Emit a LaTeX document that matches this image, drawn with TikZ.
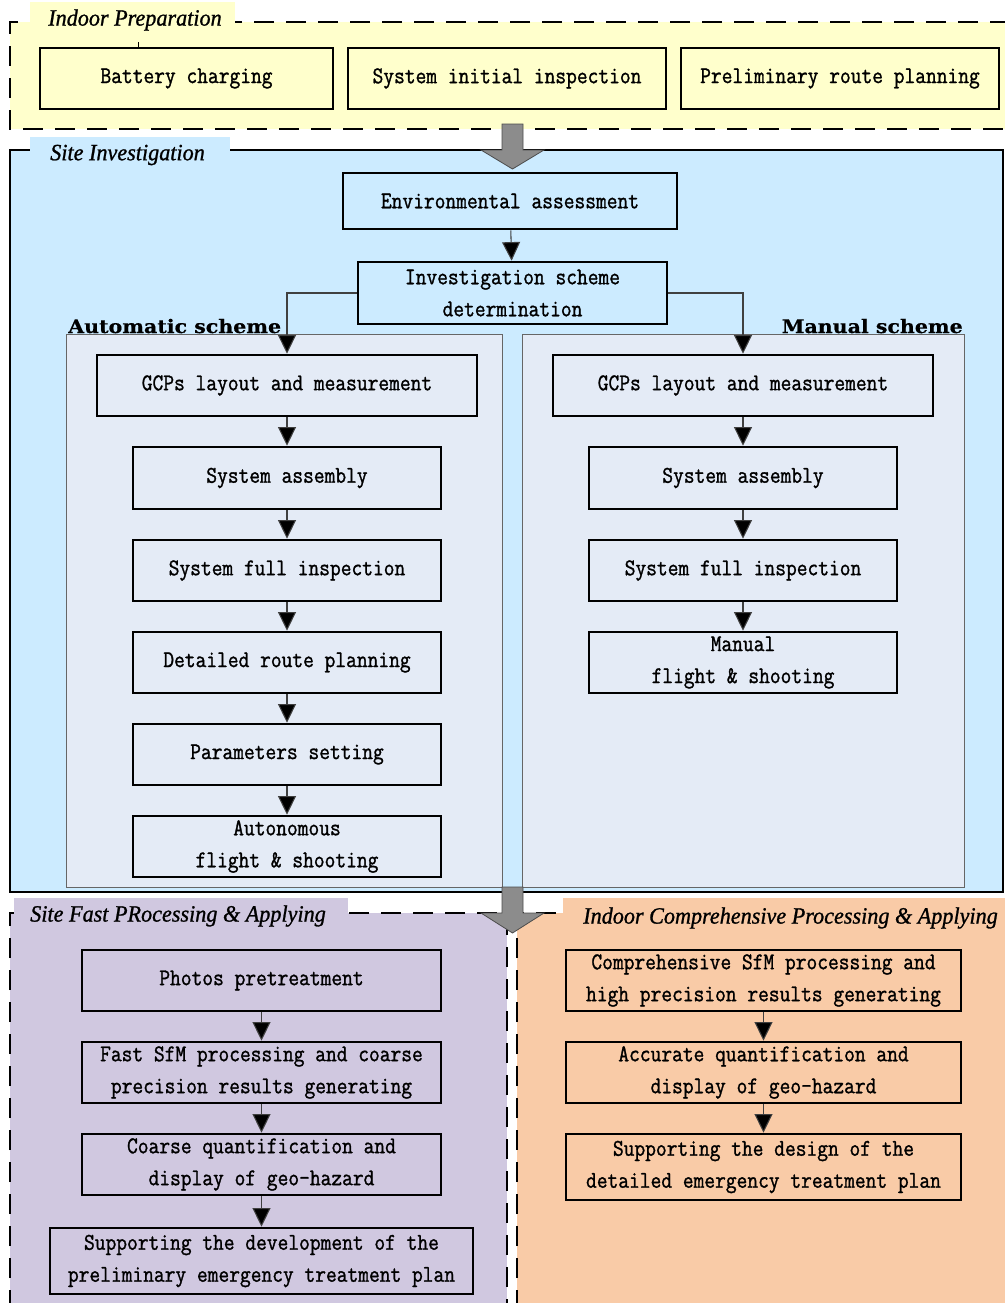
\documentclass[tikz,border=0pt]{standalone}
\usepackage{fontspec}
\usetikzlibrary{arrows.meta}
\newfontfamily\monof[FakeStretch=0.87,FakeBold=1.2]{Latin Modern Mono}
\newfontfamily\titf[FakeStretch=0.95,FakeBold=1.0]{Liberation Serif}
\newfontfamily\schemef[FakeStretch=1.1,FakeBold=0.6]{DejaVu Serif}
\definecolor{yel}{HTML}{FFFFCC}
\definecolor{blu}{HTML}{CCEBFF}
\definecolor{pan}{HTML}{E4EBF6}
\definecolor{lav}{HTML}{D0C8E0}
\definecolor{pch}{HTML}{F9CBA7}
\definecolor{garrow}{HTML}{8C8C8C}
\tikzset{
  box/.style={draw=black, line width=1.9pt, inner sep=0pt, align=center,
    font=\monof\fontsize{18}{24}\selectfont},
  conn/.style={draw=black!75, line width=0.8pt, -{Triangle[length=14pt,width=13.5pt,fill=black]}},
  dashsec/.style={draw=black, line width=2.2pt, dash pattern=on 15pt off 9pt},
  tabtext/.style={inner sep=0pt, anchor=west, font=\titf\itshape\fontsize{17.5}{20}\selectfont},
  schemetext/.style={inner sep=0pt, font=\schemef\bfseries\fontsize{14}{16}\selectfont},
  panel/.style={fill=pan, draw=black!60, line width=0.75pt},
  bigarrow/.style={fill=garrow, draw=black!70, line width=0.6pt},
}
\begin{document}
\begin{tikzpicture}[x=0.75pt,y=-0.75pt]
\useasboundingbox (0,0) rectangle (1004,1303);
% ---- Indoor Preparation
\path[fill=yel] (10,22) rectangle (1010,129);
\draw[dashsec] (1010,22) -- (10,22) -- (10,129) -- (1010,129);
\fill[yel] (30,2) rectangle (235,45);
\node[tabtext] (tIP) at (48,20) {Indoor Preparation};
\draw[line width=0.6pt] (138,42) -- (138,48);
\node[box, fill=yel, minimum width=293*0.75pt, minimum height=61*0.75pt] (bc) at (186.5,78.5) {Battery charging};
\node[box, fill=yel, minimum width=318*0.75pt, minimum height=61*0.75pt] (sii) at (507,78.5) {System initial inspection};
\node[box, fill=yel, minimum width=318*0.75pt, minimum height=61*0.75pt] (prp) at (840,78.5) {Preliminary route planning};
% ---- Site Investigation
\draw[fill=blu, draw=black, line width=1.9pt] (10,150) rectangle (1003,892);
\fill[blu] (30,137) rectangle (230,172);
\node[tabtext] (tSI) at (50,155) {Site Investigation};
\draw[bigarrow] (502,124) -- (523,124) -- (523,150) -- (544,150) -- (512.5,169) -- (481,150) -- (502,150) -- cycle;
\node[box, fill=blu, minimum width=334*0.75pt, minimum height=56*0.75pt] (env) at (510,201) {Environmental assessment};
\node[box, fill=blu, minimum width=309*0.75pt, minimum height=62*0.75pt] (inv) at (512.5,293) {Investigation scheme\\determination};
\draw[panel] (66,334) rectangle (502,887);
\draw[panel] (522,334) rectangle (964,887);
\node[schemetext, anchor=base west] (lauto) at (68,333) {Automatic scheme};
\node[schemetext, anchor=base east] (lman) at (963,333) {Manual scheme};
% automatic column
\node[box, fill=pan, minimum width=380*0.75pt, minimum height=61*0.75pt] (gcpA) at (287,385.5) {GCPs layout and measurement};
\node[box, fill=pan, minimum width=308*0.75pt, minimum height=62*0.75pt] (saA) at (287,478) {System assembly};
\node[box, fill=pan, minimum width=308*0.75pt, minimum height=61*0.75pt] (sfiA) at (287,570.5) {System full inspection};
\node[box, fill=pan, minimum width=308*0.75pt, minimum height=61*0.75pt] (drpA) at (287,662.5) {Detailed route planning};
\node[box, fill=pan, minimum width=308*0.75pt, minimum height=61*0.75pt] (psA) at (287,754.5) {Parameters setting};
\node[box, fill=pan, minimum width=308*0.75pt, minimum height=61*0.75pt] (afsA) at (287,846.5) {Autonomous\\flight \& shooting};
% manual column
\node[box, fill=pan, minimum width=380*0.75pt, minimum height=61*0.75pt] (gcpM) at (743,385.5) {GCPs layout and measurement};
\node[box, fill=pan, minimum width=308*0.75pt, minimum height=62*0.75pt] (saM) at (743,478) {System assembly};
\node[box, fill=pan, minimum width=308*0.75pt, minimum height=61*0.75pt] (sfiM) at (743,570.5) {System full inspection};
\node[box, fill=pan, minimum width=308*0.75pt, minimum height=61*0.75pt] (mfsM) at (743,662.5) {Manual\\flight \& shooting};
\draw[conn] (env) -- (inv);
\draw[conn] (inv.west) -| (gcpA.north);
\draw[conn] (inv.east) -| (gcpM.north);
\draw[conn] (gcpA) -- (saA);
\draw[conn] (saA) -- (sfiA);
\draw[conn] (sfiA) -- (drpA);
\draw[conn] (drpA) -- (psA);
\draw[conn] (psA) -- (afsA);
\draw[conn] (gcpM) -- (saM);
\draw[conn] (saM) -- (sfiM);
\draw[conn] (sfiM) -- (mfsM);
% ---- Site Fast Processing
\path[fill=lav] (10,913) rectangle (507,1310);
\draw[dashsec] (10,1310) -- (10,913) -- (507,913) -- (507,1310);
\fill[lav] (14,898) rectangle (348,935);
\node[tabtext] (tSF) at (30,916) {Site Fast PRocessing \& Applying};
% ---- Indoor Comprehensive
\path[fill=pch] (517,913) rectangle (1010,1310);
\draw[dashsec] (517,1310) -- (517,913) -- (1010,913);
\fill[pch] (563,898) rectangle (1010,940);
\node[tabtext] (tIC) at (583,918) {Indoor Comprehensive Processing \& Applying};
\draw[bigarrow] (502,887) -- (523,887) -- (523,913) -- (544,913) -- (512.5,933) -- (481,913) -- (502,913) -- cycle;
% left lower
\node[box, fill=lav, minimum width=359*0.75pt, minimum height=61*0.75pt] (pp) at (261.5,980.5) {Photos pretreatment};
\node[box, fill=lav, minimum width=359*0.75pt, minimum height=61*0.75pt] (fsfm) at (261.5,1072.5) {Fast SfM processing and coarse\\precision results generating};
\node[box, fill=lav, minimum width=359*0.75pt, minimum height=61*0.75pt] (cq) at (261.5,1164.5) {Coarse quantification and\\display of geo-hazard};
\node[box, fill=lav, minimum width=423*0.75pt, minimum height=66*0.75pt] (sdv) at (261.5,1261) {Supporting the development of the\\preliminary emergency treatment plan};
\draw[conn] (pp) -- (fsfm);
\draw[conn] (fsfm) -- (cq);
\draw[conn] (cq) -- (sdv);
% right lower
\node[box, fill=pch, minimum width=395*0.75pt, minimum height=61*0.75pt] (csfm) at (763.5,980.5) {Comprehensive SfM processing and\\high precision results generating};
\node[box, fill=pch, minimum width=395*0.75pt, minimum height=61*0.75pt] (aq) at (763.5,1072.5) {Accurate quantification and\\display of geo-hazard};
\node[box, fill=pch, minimum width=395*0.75pt, minimum height=66*0.75pt] (sdd) at (763.5,1167) {Supporting the design of the\\detailed emergency treatment plan};
\draw[conn] (csfm) -- (aq);
\draw[conn] (aq) -- (sdd);
\end{tikzpicture}
\end{document}
